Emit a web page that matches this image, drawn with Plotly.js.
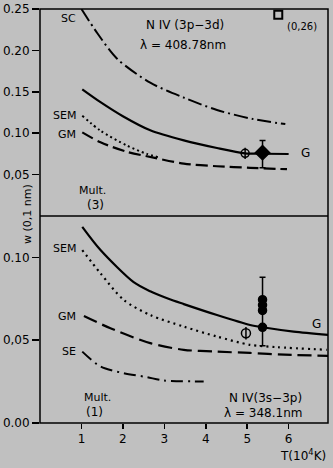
<!DOCTYPE html>
<html>
<head>
<meta charset="utf-8">
<script src="https://cdn.plot.ly/plotly-3.0.1.min.js"></script>
<style>
  html, body { margin: 0; padding: 0; background: #c0c0c0; }
  #grafico { width: 333px; height: 468px; }
</style>
</head>
<body>
<div id="grafico"></div>
<script>
// Panel superior: N IV (3p-3d), lambda = 408.78 nm
const tScTop = [1.0, 1.38, 1.86, 2.66, 3.47, 4.27, 5.15, 5.92];
const wScTop = [0.250, 0.221, 0.190, 0.161, 0.143, 0.128, 0.117, 0.111];

const tGTop = [1.02, 1.46, 2.0, 2.66, 3.47, 4.27, 4.95, 5.4, 6.0];
const wGTop = [0.153, 0.1375, 0.1205, 0.1035, 0.0913, 0.0821, 0.0757, 0.0752, 0.0749];

const tSemTop = [1.02, 1.46, 2.1, 2.58, 2.85];
const wSemTop = [0.121, 0.103, 0.085, 0.075, 0.071];

const tGmTop = [1.02, 1.46, 2.1, 2.74, 3.47, 4.27, 5.07, 5.96];
const wGmTop = [0.101, 0.089, 0.0775, 0.0705, 0.0633, 0.0601, 0.0582, 0.0565];

// Panel inferior: N IV (3s-3p), lambda = 348.1 nm
const tGBot = [1.02, 1.46, 2.26, 2.66, 3.1, 3.47, 4.27, 5.07, 5.37, 6.12, 6.96];
const wGBot = [0.1184, 0.1044, 0.0850, 0.0795, 0.0750, 0.0718, 0.0652, 0.0592, 0.0578, 0.0552, 0.0532];

const tSemBot = [1.02, 1.46, 2.02, 2.66, 3.47, 4.27, 5.07, 5.72, 6.92];
const wSemBot = [0.1044, 0.0904, 0.0743, 0.0652, 0.0582, 0.0522, 0.0472, 0.0458, 0.0442];

const tGmBot = [1.06, 1.7, 2.66, 3.47, 4.27, 5.07, 5.9, 6.96];
const wGmBot = [0.0646, 0.0572, 0.0482, 0.0442, 0.0431, 0.0423, 0.0413, 0.0405];

const tSeBot = [1.02, 1.46, 2.02, 2.58, 2.98, 3.95];
const wSeBot = [0.0431, 0.0341, 0.0301, 0.0277, 0.0257, 0.0251];

// Puntos experimentales
const tAbiertoTop = [4.95];
const wAbiertoTop = [0.0757];
const tRomboTop = [5.37];
const wRomboTop = [0.0765];
const errArribaTop = [0.0148];
const errAbajoTop = [0.0183];
const tCuadrado = [5.75];
const wCuadrado = [0.243];

const tAbiertoBot = [4.97];
const wAbiertoBot = [0.0542];
const tLlenoBot = [5.37, 5.37, 5.37, 5.37];
const wLlenoBot = [0.0578, 0.0745, 0.0712, 0.068];
const errArribaBot = [0.0302, 0, 0, 0];
const errAbajoBot = [0.0112, 0, 0, 0];

const ticksTop = [0.05, 0.10, 0.15, 0.20, 0.25];
const ticksTopTxt = ['0,05', '0.10', '0.15', '0.20', '0.25'];
const ticksBot = [0.00, 0.05, 0.10];
const ticksBotTxt = ['0.00', '0,05', '0.10'];
const ticksX = [1, 2, 3, 4, 5, 6];

const negro = '#000000';
const fuente = 'DejaVu Sans, Liberation Sans, sans-serif';

function curva(x, y, ejeY, dash, ancho) {
    return {
        x: x, y: y, yaxis: ejeY, type: 'scatter', mode: 'lines',
        line: { color: negro, width: ancho, dash: dash, shape: 'spline', smoothing: 0.8 },
        hoverinfo: 'skip', showlegend: false
    };
}

function puntos(x, y, ejeY, simbolo, tam, extra) {
    const t = {
        x: x, y: y, yaxis: ejeY, type: 'scatter', mode: 'markers',
        marker: { symbol: simbolo, size: tam, color: negro, line: { color: negro, width: 1.5 } },
        hoverinfo: 'skip', showlegend: false
    };
    return Object.assign(t, extra || {});
}

const trazas = [
    curva(tScTop, wScTop, 'y2', '14px,4px,2px,4px', 2),
    curva(tGTop, wGTop, 'y2', 'solid', 2.2),
    curva(tSemTop, wSemTop, 'y2', '2px,3px', 2),
    curva(tGmTop, wGmTop, 'y2', '12px,5px', 2.2),
    curva(tGBot, wGBot, 'y', 'solid', 2.2),
    curva(tSemBot, wSemBot, 'y', '2px,4px', 2.2),
    curva(tGmBot, wGmBot, 'y', '14px,6px', 2.2),
    curva(tSeBot, wSeBot, 'y', '12px,5px,2px,5px', 2),

    puntos(tAbiertoTop, wAbiertoTop, 'y2', 'circle-open', 8),
    puntos(tAbiertoTop, wAbiertoTop, 'y2', 'line-ns-open', 8),
    puntos(tRomboTop, wRomboTop, 'y2', 'diamond', 11, {
        error_y: { type: 'data', symmetric: false, array: errArribaTop, arrayminus: errAbajoTop,
                   color: negro, thickness: 1.5, width: 3 }
    }),
    puntos(tCuadrado, wCuadrado, 'y2', 'square-open', 8, { marker: { symbol: 'square-open', size: 8, color: negro, line: { color: negro, width: 2 } } }),

    puntos(tAbiertoBot, wAbiertoBot, 'y', 'circle-open', 9),
    puntos(tAbiertoBot, wAbiertoBot, 'y', 'line-ns-open', 9),
    puntos(tLlenoBot, wLlenoBot, 'y', 'circle', 8, {
        error_y: { type: 'data', symmetric: false, array: errArribaBot, arrayminus: errAbajoBot,
                   color: negro, thickness: 1.5, width: 3 }
    })
];

function nota(texto, x, y, ejeY, extra) {
    return Object.assign({
        text: texto, x: x, y: y, xref: 'x', yref: ejeY, showarrow: false,
        xanchor: 'center', yanchor: 'middle',
        font: { family: fuente, size: 11, color: negro }
    }, extra || {});
}

const f12 = { family: fuente, size: 12, color: negro };

const notas = [
    nota('SC', 0.92, 0.238, 'y2', { xanchor: 'right' }),
    nota('N IV (3p\u22123d)', 3.5, 0.231, 'y2', { font: f12 }),
    nota('\u03bb = 408.78nm', 3.46, 0.207, 'y2', { font: f12 }),
    nota('(0,26)', 6.32, 0.229, 'y2', { font: { family: fuente, size: 10, color: negro } }),
    nota('SEM', 0.92, 0.121, 'y2', { xanchor: 'right' }),
    nota('GM', 0.92, 0.099, 'y2', { xanchor: 'right' }),
    nota('G', 6.25, 0.0755, 'y2', { xanchor: 'left', font: f12 }),
    nota('Mult.', 1.26, 0.0313, 'y2'),
    nota('(3)', 1.34, 0.0133, 'y2', { font: f12 }),

    nota('SEM', 0.92, 0.1054, 'y', { xanchor: 'right' }),
    nota('GM', 0.92, 0.0646, 'y', { xanchor: 'right' }),
    nota('SE', 0.92, 0.0431, 'y', { xanchor: 'right' }),
    nota('G', 6.68, 0.0595, 'y', { font: f12 }),
    nota('Mult.', 1.38, 0.0151, 'y'),
    nota('(1)', 1.32, 0.0064, 'y', { font: f12 }),
    nota('N IV(3s\u22123p)', 5.43, 0.0151, 'y', { font: f12 }),
    nota('\u03bb = 348.1nm', 5.39, 0.0062, 'y', { font: f12 }),

    { text: 'w (0,1 nm)', xref: 'paper', yref: 'paper', x: 0, y: 0.505, xshift: -12,
      xanchor: 'center', yanchor: 'middle',
      textangle: -90, showarrow: false, font: { family: fuente, size: 11, color: negro } },
    { text: 'T(10<sup>4</sup>K)', xref: 'paper', yref: 'paper', x: 1, y: -0.077,
      xanchor: 'right', yanchor: 'middle',
      showarrow: false, font: f12 }
];

const layout = {
    width: 333, height: 468,
    margin: { l: 40, r: 5, t: 9, b: 45, pad: 0 },
    paper_bgcolor: '#c0c0c0',
    plot_bgcolor: '#c0c0c0',
    font: { family: fuente, size: 12, color: negro },
    showlegend: false,
    xaxis: {
        range: [0, 6.95], anchor: 'y', showgrid: false, zeroline: false,
        tickvals: ticksX, ticks: 'outside', ticklen: 5, tickwidth: 1.5, tickcolor: negro,
        showline: false
    },
    yaxis: {
        domain: [0, 0.5], range: [0, 0.125], showgrid: false, zeroline: false,
        tickvals: ticksBot, ticktext: ticksBotTxt, ticks: 'outside', ticklen: 7,
        tickwidth: 1.5, tickcolor: negro, showline: false
    },
    yaxis2: {
        domain: [0.5, 1], range: [0, 0.25], anchor: 'x', showgrid: false, zeroline: false,
        tickvals: ticksTop, ticktext: ticksTopTxt, ticks: 'outside', ticklen: 7,
        tickwidth: 1.5, tickcolor: negro, showline: false
    },
    shapes: [
        { type: 'rect', xref: 'paper', yref: 'paper', x0: 0, x1: 1, y0: 0, y1: 1,
          line: { color: negro, width: 1.5 } },
        { type: 'line', xref: 'paper', yref: 'paper', x0: 0, x1: 1, y0: 0.5, y1: 0.5,
          line: { color: negro, width: 1.5 } }
    ],
    annotations: notas
};

Plotly.newPlot('grafico', trazas, layout, { staticPlot: true, displayModeBar: false });
</script>
</body>
</html>
